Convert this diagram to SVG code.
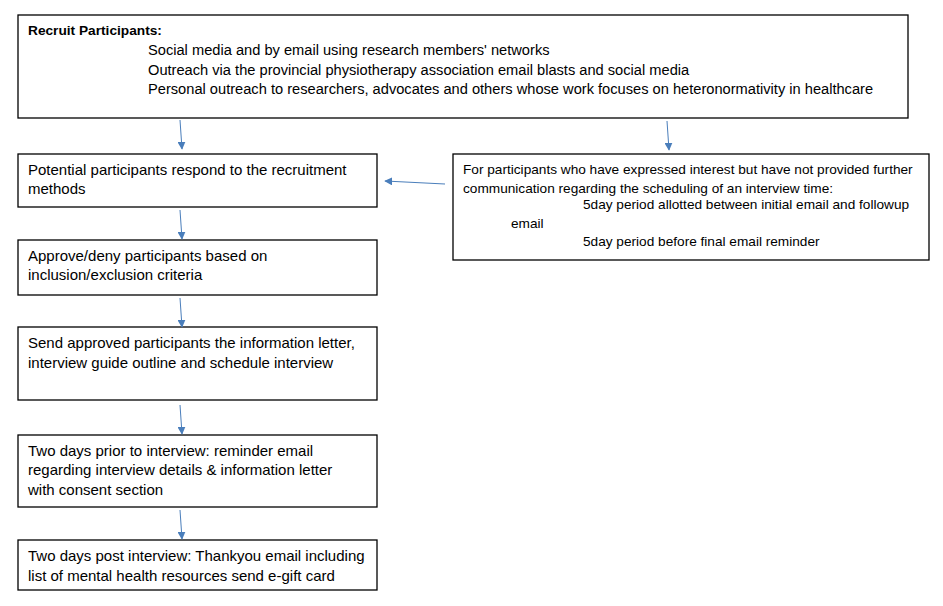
<svg xmlns="http://www.w3.org/2000/svg" width="943" height="606" viewBox="0 0 943 606">
<defs>
<style>
.box{fill:#fff;stroke:#000;stroke-width:1.3}
text{font-family:"Liberation Sans",Arial,sans-serif;font-size:15px;fill:#000}
.t{font-size:14.65px}
.r{font-size:13.65px}
.b{font-weight:bold;font-size:13.7px}
.c{stroke:#4a7ebb;stroke-width:1;fill:none;marker-end:url(#ah)}
</style>
<marker id="ah" viewBox="0 0 10 10" refX="9" refY="5" markerWidth="8" markerHeight="8" orient="auto" markerUnits="userSpaceOnUse">
<path d="M0,0 L10,5 L0,10 z" fill="#4a7ebb"/>
</marker>
</defs>
<rect width="943" height="606" fill="#fff"/>
<g id="recruit">
<rect class="box" x="18" y="15" width="890" height="103"/>
<text class="b" x="28" y="35">Recruit Participants:</text>
<text class="t" x="148" y="55">Social media and by email using research members' networks</text>
<text class="t" x="148" y="75">Outreach via the provincial physiotherapy association email blasts and social media</text>
<text class="t" x="148" y="94">Personal outreach to researchers, advocates and others whose work focuses on heteronormativity in healthcare</text>
</g>
<g id="respond">
<rect class="box" x="18" y="154" width="359" height="53"/>
<text x="28" y="175">Potential participants respond to the recruitment</text>
<text x="28" y="194">methods</text>
</g>
<g id="approve">
<rect class="box" x="18" y="240" width="359" height="55"/>
<text x="28" y="261">Approve/deny participants based on</text>
<text x="28" y="280">inclusion/exclusion criteria</text>
</g>
<g id="send">
<rect class="box" x="18" y="327" width="359" height="73"/>
<text x="28" y="348">Send approved participants the information letter,</text>
<text x="28" y="368">interview guide outline and schedule interview</text>
</g>
<g id="prior">
<rect class="box" x="18" y="435" width="359" height="72"/>
<text x="28" y="456">Two days prior to interview: reminder email</text>
<text x="28" y="475">regarding interview details &amp; information letter</text>
<text x="28" y="495">with consent section</text>
</g>
<g id="post">
<rect class="box" x="18" y="540" width="359" height="50"/>
<text x="28" y="561">Two days post interview: Thankyou email including</text>
<text x="28" y="581">list of mental health resources send e-gift card</text>
</g>
<g id="followup">
<rect class="box" x="453" y="154" width="476" height="106"/>
<text class="r" x="463" y="174">For participants who have expressed interest but have not provided further</text>
<text class="r" x="463" y="193">communication regarding the scheduling of an interview time:</text>
<text class="r" x="583" y="209">5day period allotted between initial email and followup</text>
<text class="r" x="511" y="228">email</text>
<text class="r" x="583" y="246">5day period before final email reminder</text>
</g>
<g id="connectors">
<line class="c" x1="180" y1="120" x2="182" y2="149"/>
<line class="c" x1="667" y1="121" x2="669" y2="150"/>
<line class="c" x1="445" y1="184" x2="385" y2="181"/>
<line class="c" x1="180" y1="210" x2="182" y2="239"/>
<line class="c" x1="180" y1="298" x2="182" y2="327"/>
<line class="c" x1="180" y1="405" x2="182" y2="434"/>
<line class="c" x1="180" y1="510" x2="182" y2="539"/>
</g>
</svg>
